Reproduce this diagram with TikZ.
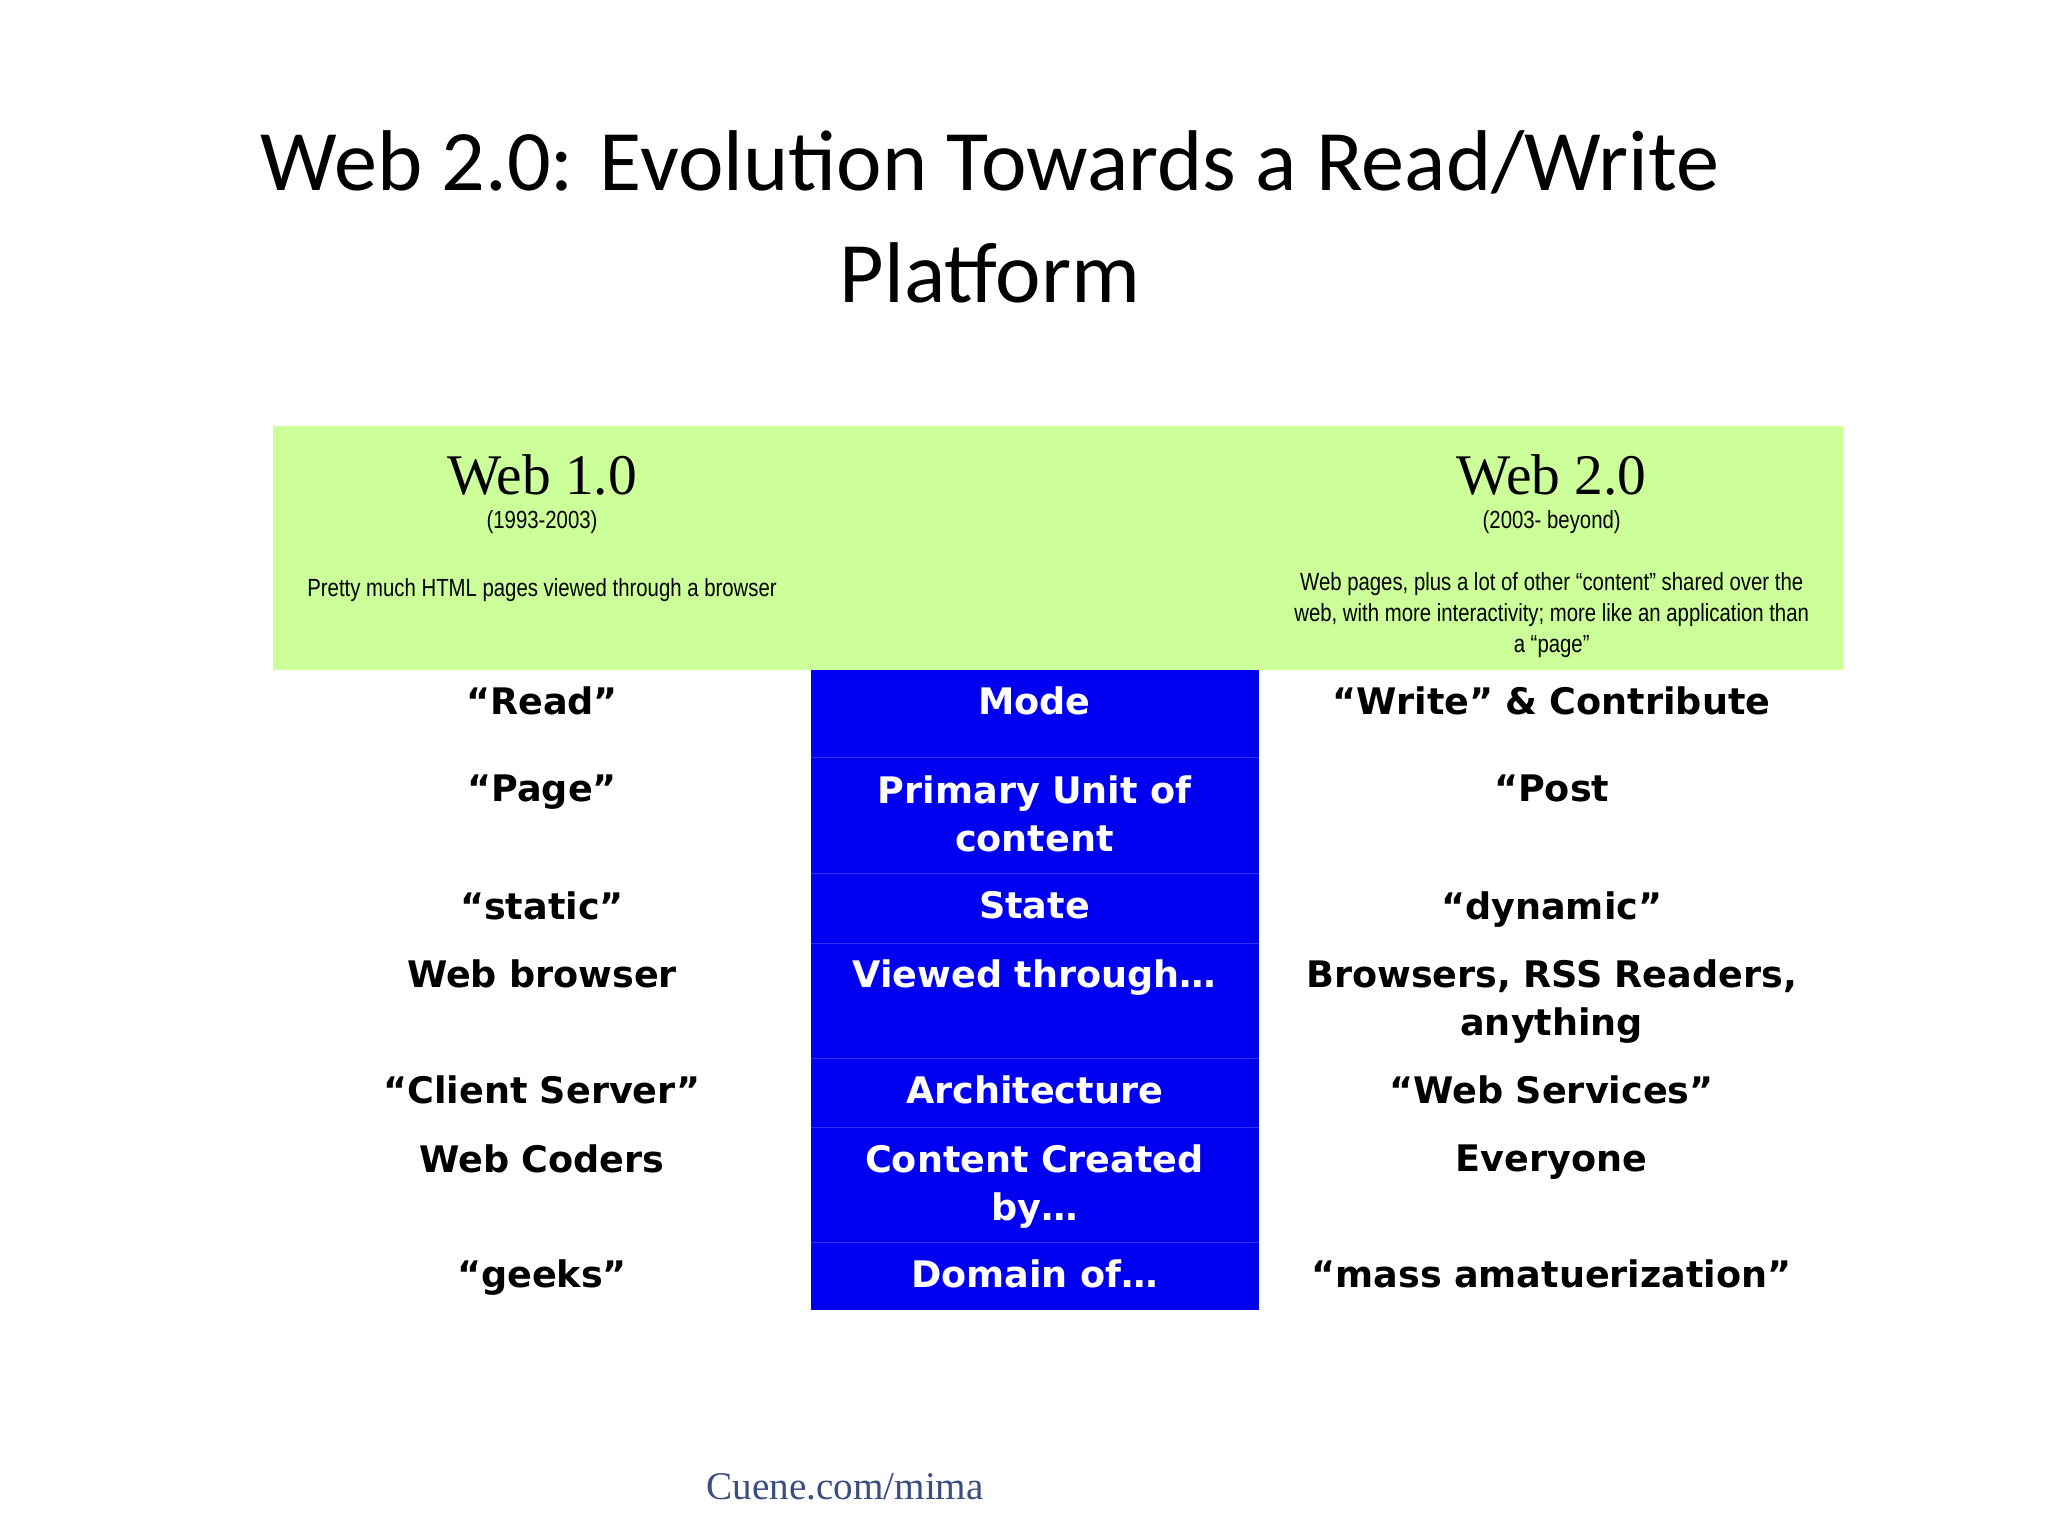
\documentclass[tikz,border=0pt]{standalone}
\usepackage{fontspec}
\setmainfont{Liberation Serif}
\newfontfamily\titlefont{Carlito}
\newfontfamily\boldfont{DejaVu Sans}
\newfontfamily\narrowfont[FakeStretch=0.82]{Liberation Sans}
\definecolor{gband}{HTML}{CCFF99}
\definecolor{bcol}{HTML}{0000F0}
\definecolor{ftext}{HTML}{3A4F7F}
\tikzset{
 cell/.style={font=\boldfont\bfseries\fontsize{28}{37}\selectfont,align=center,text width=330pt,anchor=north},
 wcell/.style={cell,text=white},
 small/.style={font=\narrowfont\fontsize{19}{24}\selectfont,align=center},
}
\begin{document}
\begin{tikzpicture}[x=1pt,y=-1pt]
\useasboundingbox (0,0) rectangle (1568,1176);
\fill[white] (0,0) rectangle (1568,1176);
\node[font=\titlefont\fontsize{66}{86}\selectfont,align=center] (title) at (758,166) {Web 2.0: Evolution Towards a Read/Write\\Platform};
\fill[gband] (209,326) rectangle (1411,513);
\fill[bcol] (621,513) rectangle (964,1003);
\foreach \y in {580,669,722,810,863,951} \draw[blue!80!white,line width=0.6pt] (621,\y) -- (964,\y);
\node[font=\fontsize{44}{50}\selectfont] (w1) at (415,364) {Web 1.0};
\node[font=\fontsize{44}{50}\selectfont] (w2) at (1188,364) {Web 2.0};
\node[small] (d1) at (415,400) {(1993-2003)};
\node[small] (d2) at (1188,400) {(2003- beyond)};
\node[small] (p1) at (415,452) {Pretty much HTML pages viewed through a browser};
\node[small] (p2) at (1188,471) {Web pages, plus a lot of other “content” shared over the\\web, with more interactivity; more like an application than\\a “page”};
\foreach \y/\l/\m/\r [count=\i] in {
 522/“Read”/Mode/“Write” \& Contribute,
 590/“Page”/{Primary Unit of\\content}/“Post / record”,
 679/“static”/State/“dynamic”,
 731/Web browser/Viewed through…/{Browsers, RSS Readers,\\anything},
 820/“Client Server”/Architecture/“Web Services”,
 873/Web Coders/{Content Created\\by…}/Everyone,
 961/“geeks”/Domain of…/“mass amatuerization”}{
 \node[cell] (l\i) at (415,\y) {\l};
 \node[wcell] (m\i) at (792,\y) {\m};
 \node[cell,text width=440pt] (r\i) at (1188,\y) {\r};
}
\node[font=\fontsize{30}{34}\selectfont,text=ftext] (foot) at (647,1138) {Cuene.com/mima};
\end{tikzpicture}
\end{document}
